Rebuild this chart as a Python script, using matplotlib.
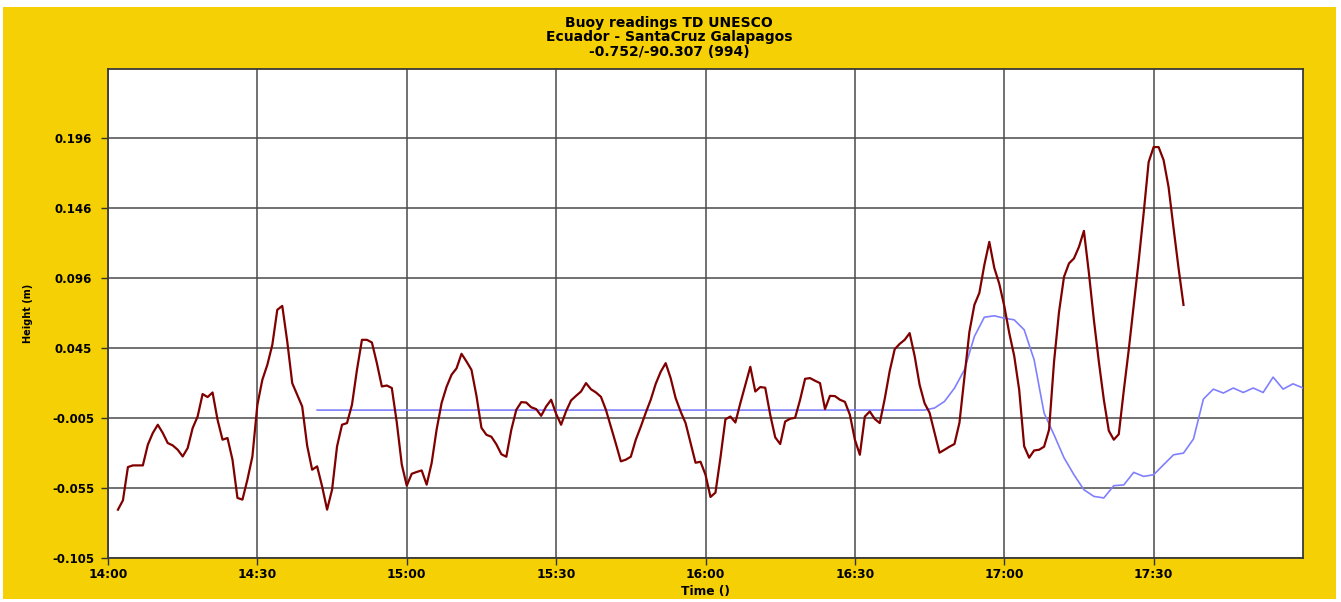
import matplotlib
matplotlib.use("Agg")
import matplotlib.pyplot as plt
from matplotlib.patches import Rectangle

# ---------------- data ----------------
title_lines = ["Buoy readings TD UNESCO",
               "Ecuador - SantaCruz Galapagos",
               "-0.752/-90.307 (994)"]
x_label = "Time ()"
y_label = "Height (m)"

x_tick_minutes = [0, 30, 60, 90, 120, 150, 180, 210]
x_tick_labels = ["14:00", "14:30", "15:00", "15:30", "16:00", "16:30", "17:00", "17:30"]
y_tick_values = [-0.105, -0.0549, -0.0048, 0.0454, 0.0956, 0.1457, 0.1958]
y_tick_labels = ["-0.105", "-0.055", "-0.005", "0.045", "0.096", "0.146", "0.196"]

# measured series (minutes after 14:00, one reading per minute)
measured_minutes = list(range(2, 217))
measured_height = [
    -0.0704, -0.0637, -0.0399, -0.0387, -0.0387, -0.0387, -0.0239, -0.0155, -0.0096, -0.0155,
    -0.0227, -0.0244, -0.0275, -0.0323, -0.0263, -0.0120, -0.0037, 0.0124, 0.0102, 0.0135,
    -0.0060, -0.0203, -0.0191, -0.0346, -0.0620, -0.0632, -0.0489, -0.0323, 0.0047, 0.0226,
    0.0333, 0.0476, 0.0727, 0.0755, 0.0500, 0.0202, 0.0119, 0.0035, -0.0246, -0.0418,
    -0.0394, -0.0537, -0.0704, -0.0561, -0.0251, -0.0096, -0.0084, 0.0047, 0.0297, 0.0512,
    0.0512, 0.0493, 0.0345, 0.0178, 0.0185, 0.0167, -0.0080, -0.0380, -0.0532, -0.0447,
    -0.0434, -0.0423, -0.0525, -0.0370, -0.0130, 0.0060, 0.0176, 0.0262, 0.0308, 0.0412,
    0.0357, 0.0297, 0.0111, -0.0118, -0.0168, -0.0182, -0.0236, -0.0307, -0.0325, -0.0132,
    0.0011, 0.0066, 0.0063, 0.0029, 0.0016, -0.0032, 0.0035, 0.0083, -0.0018, -0.0096,
    0.0001, 0.0078, 0.0111, 0.0142, 0.0202, 0.0158, 0.0135, 0.0104, 0.0011, -0.0110,
    -0.0232, -0.0358, -0.0346, -0.0325, -0.0203, -0.0110, -0.0010, 0.0083, 0.0197, 0.0283,
    0.0345, 0.0238, 0.0095, -0.0001, -0.0084, -0.0227, -0.0368, -0.0361, -0.0454, -0.0613,
    -0.0582, -0.0332, -0.0057, -0.0037, -0.0080, 0.0059, 0.0190, 0.0319, 0.0142, 0.0174,
    0.0169, -0.0025, -0.0186, -0.0234, -0.0073, -0.0053, -0.0046, 0.0083, 0.0233, 0.0238,
    0.0219, 0.0202, 0.0016, 0.0111, 0.0109, 0.0083, 0.0068, -0.0025, -0.0203, -0.0311,
    -0.0037, -0.0001, -0.0055, -0.0084, 0.0090, 0.0290, 0.0445, 0.0483, 0.0512, 0.0560,
    0.0397, 0.0190, 0.0058, -0.0010, -0.0153, -0.0296, -0.0275, -0.0253, -0.0234, -0.0082,
    0.0240, 0.0569, 0.0762, 0.0848, 0.1048, 0.1213, 0.1027, 0.0913, 0.0755, 0.0562,
    0.0397, 0.0154, -0.0250, -0.0332, -0.0280, -0.0275, -0.0253, -0.0132, 0.0355, 0.0712,
    0.0963, 0.1059, 0.1095, 0.1177, 0.1292, 0.0991, 0.0655, 0.0355, 0.0083, -0.0139,
    -0.0203, -0.0164, 0.0147, 0.0440, 0.0762, 0.1077, 0.1420, 0.1785, 0.1892, 0.1892,
    0.1799, 0.1606, 0.1313, 0.1027, 0.0762,
]

# reference / filtered series (minutes after 14:00)
filtered_minutes = [42, 164, 166, 168, 170, 172, 174, 176, 178, 180, 182, 184, 186, 188,
                    190, 192, 194, 196, 198, 200, 202, 204, 206, 208, 210, 212, 214, 216,
                    218, 220, 222, 224, 226, 228, 230, 232, 234, 236, 238, 240]
filtered_height = [0.0009, 0.0009, 0.0024, 0.0071, 0.0166, 0.0297, 0.0536, 0.0674, 0.0684,
                   0.0667, 0.0655, 0.0584, 0.0369, -0.0012, -0.0168, -0.0332, -0.0454,
                   -0.0561, -0.0609, -0.0620, -0.0532, -0.0527, -0.0437, -0.0466, -0.0454,
                   -0.0382, -0.0311, -0.0299, -0.0198, 0.0088, 0.0159, 0.0131, 0.0167,
                   0.0135, 0.0167, 0.0135, 0.0245, 0.0159, 0.0197, 0.0167]

# ---------------- style ----------------
W, H = 1341, 602
YELLOW = "#F4D004"
GRID = "#4a4a4a"
FONT = "DejaVu Sans"

fig = plt.figure(figsize=(W / 100, H / 100), dpi=100, facecolor="white")
fig.patches.append(Rectangle((3 / W, 1 - 599 / H), (1336 - 3) / W, (599 - 7) / H,
                             transform=fig.transFigure, facecolor=YELLOW,
                             edgecolor="none", zorder=-10))

left, right, top, bottom = 108, 1303, 69, 558
ax = fig.add_axes([left / W, 1 - bottom / H, (right - left) / W, (bottom - top) / H])
ax.set_zorder(1)
ax.set_facecolor("white")

ax.plot(filtered_minutes, filtered_height, color="#8080FF", lw=1.2, zorder=3)
ax.plot(measured_minutes, measured_height, color="#800000", lw=1.6, zorder=4)

ax.set_xlim(0, 240)
ax.set_ylim(-0.105, 0.2451)
ax.set_xticks(x_tick_minutes)
ax.set_xticklabels(x_tick_labels, fontsize=8.8, fontweight="bold", family=FONT)
ax.set_yticks(y_tick_values)
ax.set_yticklabels(y_tick_labels, fontsize=8.5, fontweight="bold", family=FONT,
                   ha="center")
ax.tick_params(direction="out", length=5, width=1, color="#333333")
ax.tick_params(axis="x", pad=2)
ax.tick_params(axis="y", pad=20)

ax.grid(True, color=GRID, lw=1.1, zorder=1)
ax.set_axisbelow(True)
for s in ax.spines.values():
    s.set_color("#3a3a3a")
    s.set_linewidth(1.3)

ax.set_xlabel(x_label, fontsize=8.8, fontweight="bold", family=FONT)
ax.xaxis.set_label_coords(0.5, -(592 - 558) / (558 - 69))
ax.xaxis.label.set_va("center")
ax.set_ylabel(y_label, fontsize=7, fontweight="bold", family=FONT)
ax.yaxis.set_label_coords(-(108 - 28) / (1303 - 108), 0.5 + (314 - 313.5) / (558 - 69))
ax.yaxis.label.set_va("center")

for i, line in enumerate(title_lines):
    fig.text(669 / W, 1 - (23 + i * 14.5) / H, line, ha="center", va="center",
             fontsize=10, fontweight="bold", family=FONT, zorder=5)

fig.savefig("out.png", dpi=100, facecolor=fig.get_facecolor())
